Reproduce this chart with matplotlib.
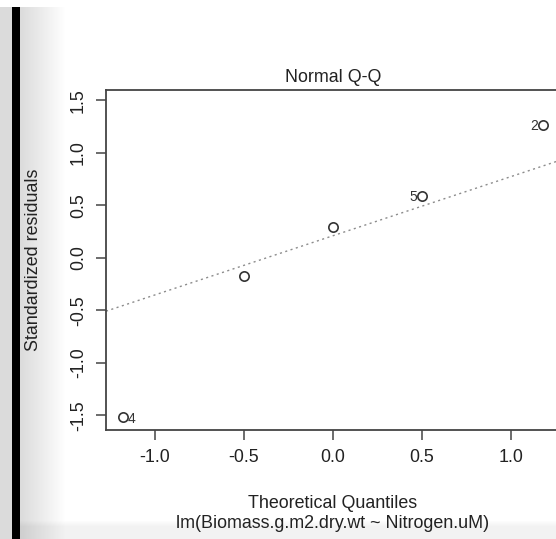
import numpy as np
import matplotlib
matplotlib.use("Agg")
import matplotlib.pyplot as plt

plt.rcParams['font.family'] = ['Liberation Sans', 'DejaVu Sans']

obs_ids = [4, 3, 1, 5, 2]
theo_q = [-1.18, -0.50, 0.00, 0.50, 1.18]
std_resid = [-1.52, -0.17, 0.29, 0.59, 1.27]
labelled = [4, 5, 2]

xticks = [-1.0, -0.5, 0.0, 0.5, 1.0]
yticks = [-1.5, -1.0, -0.5, 0.0, 0.5, 1.0, 1.5]

title = "Normal Q-Q"
xlabel = "Theoretical Quantiles"
ylabel = "Standardized residuals"
subcap = "lm(Biomass.g.m2.dry.wt ~ Nitrogen.uM)"

FS = 12.9

W, H = 556, 539
fig = plt.figure(figsize=(W / 100, H / 100), dpi=100)
fig.patch.set_facecolor('white')

# screenshot decoration: black window edge with shadow, grey strip at bottom
bg = np.ones((H, W, 3))
xs = np.arange(W)
shade = np.clip((xs - 20) / 45.0, 0, 1)
g = 0.86 + 0.14 * shade
bg[7:, :, :] = g[None, :, None]
ys = np.arange(H)
bot = np.clip((ys - 520) / 6.0, 0, 1) * 0.05
bg[7:, 20:, :] -= bot[7:, None, None]
bg[7:, 12:20, :] = 0.0
bgax = fig.add_axes([0, 0, 1, 1], zorder=-10)
bgax.imshow(bg, aspect='auto', interpolation='nearest')
bgax.axis('off')

left, right, top, bottom = 106, 559.5, 90, 430
ax = fig.add_axes([left / W, (H - bottom) / H, (right - left) / W, (bottom - top) / H])
ax.patch.set_alpha(0)

x = np.array(theo_q)
y = np.array(std_resid)

# axis ranges like R's plot.lm
xr = x.max() - x.min()
ax.set_xlim(x.min() - 0.04 * xr, x.max() + 0.04 * xr)
lo, hi = y.min(), y.max() + 0.075 * (y.max() - y.min())
yr = hi - lo
ax.set_ylim(lo - 0.04 * yr, hi + 0.04 * yr)

# qqline through the quartiles
q1, q3 = np.percentile(y, [25, 75])
z = 0.6744897501960817
slope = (q3 - q1) / (2 * z)
inter = q1 + slope * z
ax.axline((0, inter), slope=slope, color='#8c8c8c', lw=1.0,
          linestyle=(0, (1.5, 2.5)), zorder=1)

ax.plot(x, y, 'o', ms=6.7, mfc='none', mec='#333333', mew=1.2, zorder=3)

xmid = np.mean(ax.get_xlim())
for i, oid in enumerate(obs_ids):
    if oid in labelled:
        if x[i] > xmid:
            ax.annotate(str(oid), (x[i], y[i]), xytext=(-3.2, 0), textcoords='offset points',
                        ha='right', va='center_baseline', fontsize=10, color='#333333')
        else:
            ax.annotate(str(oid), (x[i], y[i]), xytext=(3.2, 0), textcoords='offset points',
                        ha='left', va='center_baseline', fontsize=10, color='#333333')

for s in ax.spines.values():
    s.set_color('#444444')
    s.set_linewidth(1.3)

ax.set_xticks(xticks)
ax.set_xticklabels(['%.1f' % t for t in xticks])
ax.set_yticks(yticks)
ax.set_yticklabels(['%.1f' % t for t in yticks], rotation=90, va='center')
ax.tick_params(axis='both', length=7.2, width=1.1, color='#444444',
               labelsize=FS, labelcolor='#222222', pad=6.5)

fig.text(((left + right) / 2) / W, (H - 77) / H, title, ha='center', va='center',
         fontsize=FS, color='#222222')
fig.text(((left + right) / 2) / W, (H - 503) / H, xlabel, ha='center', va='center',
         fontsize=FS, color='#222222')
fig.text(((left + right) / 2) / W, (H - 523) / H, subcap, ha='center', va='center',
         fontsize=FS, color='#222222')
fig.text(34 / W, (H - (top + bottom) / 2) / H, ylabel, ha='center', va='center',
         rotation=90, fontsize=FS, color='#222222')

fig.savefig('out.png', dpi=100)
